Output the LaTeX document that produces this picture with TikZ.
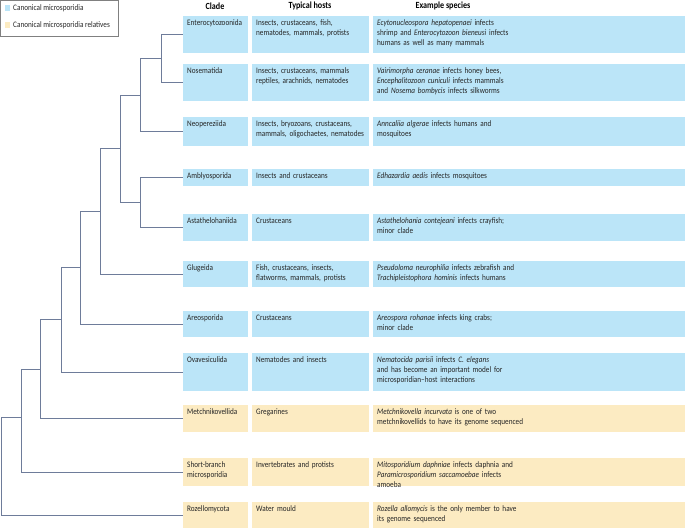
\documentclass[tikz,border=0pt]{standalone}
\usepackage{fontspec}
\setmainfont{Carlito}[FakeStretch=0.86]
\usepackage{tikz}
\usetikzlibrary{calc}
\hyphenpenalty=10000

\definecolor{canblue}{HTML}{BBE5F8}
\definecolor{canyel}{HTML}{FCEBC2}
\definecolor{treeline}{HTML}{6E7C9A}

\tikzset{
  box/.style={draw=none, inner sep=0pt, anchor=north west},
  txt/.style={inner sep=0pt, anchor=north west, align=left, text=black!85,
    font=\fontsize{8.4}{9.8}\selectfont},
  head/.style={inner sep=0pt, font=\fontsize{9.4}{10}\selectfont\bfseries},
  branch/.style={draw=treeline, line width=0.8pt},
}

% one row of the table: name, top, bottom, colour, clade, hosts, species
\newcommand\claderow[7]{%
  \node[box, fill=#4, minimum width=65pt, minimum height=#3pt-#2pt] (#1) at (183,#2) {};
  \node[box, fill=#4, minimum width=117pt, minimum height=#3pt-#2pt] (#1h) at (252,#2) {};
  \node[box, fill=#4, minimum width=312pt, minimum height=#3pt-#2pt] (#1s) at (373,#2) {};
  \node[txt, text width=70pt] at ([shift={(4pt,-3.5pt)}]#1.north west) {#5};
  \node[txt, text width=130pt] at ([shift={(4pt,-3.5pt)}]#1h.north west) {#6};
  \node[txt, text width=308pt] at ([shift={(4pt,-3.5pt)}]#1s.north west) {#7};
}

\begin{document}
\begin{tikzpicture}[x=1pt, y=-1pt]
  \useasboundingbox (0,0) rectangle (685,529);

  % legend
  \node[box, draw=black!50, minimum width=118pt, minimum height=36pt] (legend) at (0,0) {};
  \fill[canblue] (5,5) rectangle (10,11);
  \fill[canyel] (5,22) rectangle (10,28);
  \node[txt, anchor=west] (lg1) at (13,8.5) {Canonical microsporidia};
  \node[txt, anchor=west] (lg2) at (13,25.5) {Canonical microsporidia relatives};

  % headers
  \node[head] (hclade) at (215,6) {Clade};
  \node[head] (hhosts) at (310,6) {Typical hosts};
  \node[head] (hspec) at (443,6) {Example species};

  % table rows
  \claderow{ent}{16}{53}{canblue}{Enterocytozoonida}{Insects, crustaceans, fish,\\nematodes, mammals, protists}
    {\emph{Ecytonucleospora hepatopenaei} infects\\shrimp and \emph{Enterocytozoon bieneusi} infects\\humans as well as many mammals}
  \claderow{nos}{64}{101}{canblue}{Nosematida}{Insects, crustaceans, mammals\\reptiles, arachnids, nematodes}
    {\emph{Vairimorpha ceranae} infects honey bees,\\\emph{Encephalitozoon cuniculi} infects mammals\\and \emph{Nosema bombycis} infects silkworms}
  \claderow{neo}{117}{146}{canblue}{Neopereziida}{Insects, bryozoans, crustaceans,\\mammals, oligochaetes, nematodes}
    {\emph{Anncaliia algerae} infects humans and\\mosquitoes}
  \claderow{amb}{169}{186}{canblue}{Amblyosporida}{Insects and crustaceans}
    {\emph{Edhazardia aedis} infects mosquitoes}
  \claderow{ast}{214}{241}{canblue}{Astathelohaniida}{Crustaceans}
    {\emph{Astathelohania contejeani} infects crayfish;\\minor clade}
  \claderow{glu}{261}{287}{canblue}{Glugeida}{Fish, crustaceans, insects,\\flatworms, mammals, protists}
    {\emph{Pseudoloma neurophilia} infects zebrafish and\\\emph{Trachipleistophora hominis} infects humans}
  \claderow{are}{311}{337}{canblue}{Areosporida}{Crustaceans}
    {\emph{Areospora rohanae} infects king crabs;\\minor clade}
  \claderow{ova}{353}{391}{canblue}{Ovavesiculida}{Nematodes and insects}
    {\emph{Nematocida parisii} infects \emph{C. elegans}\\and has become an important model for\\microsporidian--host interactions}
  \claderow{met}{405}{432}{canyel}{Metchnikovellida}{Gregarines}
    {\emph{Metchnikovella incurvata} is one of two\\metchnikovellids to have its genome sequenced}
  \claderow{sho}{458}{486}{canyel}{Short-branch\\microsporidia}{Invertebrates and protists}
    {\emph{Mitosporidium daphniae} infects daphnia and\\\emph{Paramicrosporidium saccamoebae} infects\\amoeba}
  \claderow{roz}{502}{528}{canyel}{Rozellomycota}{Water mould}
    {\emph{Rozella allomycis} is the only member to have\\its genome sequenced}

  % tree
  \coordinate (n1) at (161,58);
  \coordinate (n2) at (140,95);
  \coordinate (n3) at (140,202);
  \coordinate (n4) at (120,148);
  \coordinate (n5) at (100,211);
  \coordinate (n6) at (80,267);
  \coordinate (n7) at (61,319);
  \coordinate (n8) at (40,369);
  \coordinate (n9) at (21,417);
  \coordinate (n10) at (1,467);

  \draw[branch] (n1) |- (ent.west);
  \draw[branch] (n1) |- (nos.west);
  \draw[branch] (n2) |- (n1);
  \draw[branch] (n2) |- (neo.west);
  \draw[branch] (n3) |- (amb.west);
  \draw[branch] (n3) |- (ast.west);
  \draw[branch] (n4) |- (n2);
  \draw[branch] (n4) |- (n3);
  \draw[branch] (n5) |- (n4);
  \draw[branch] (n5) |- (glu.west);
  \draw[branch] (n6) |- (n5);
  \draw[branch] (n6) |- (are.west);
  \draw[branch] (n7) |- (n6);
  \draw[branch] (n7) |- (ova.west);
  \draw[branch] (n8) |- (n7);
  \draw[branch] (n8) |- (met.west);
  \draw[branch] (n9) |- (n8);
  \draw[branch] (n9) |- (sho.west);
  \draw[branch] (n10) |- (n9);
  \draw[branch] (n10) |- (roz.west);
\end{tikzpicture}
\end{document}
